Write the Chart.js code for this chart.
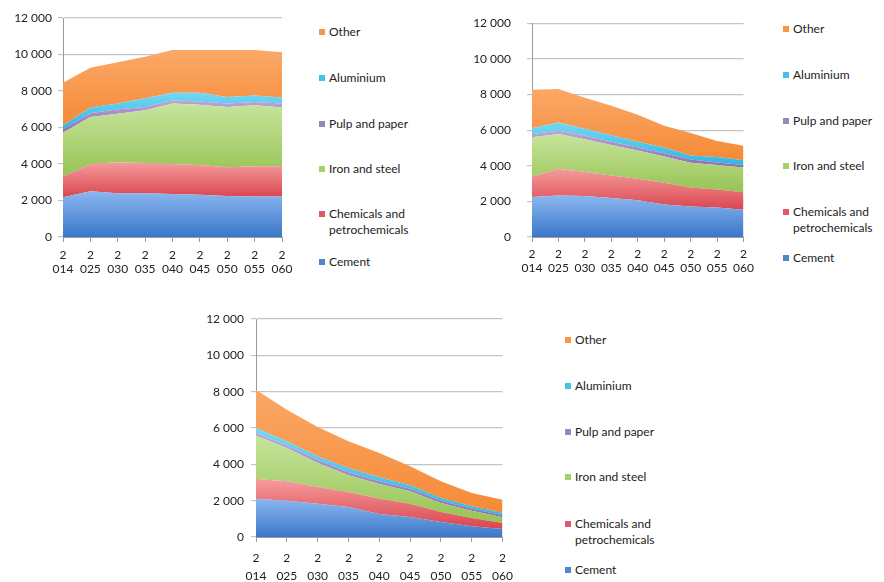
<!DOCTYPE html>
<html>
<head>
<meta charset="utf-8">
<script src="https://cdn.jsdelivr.net/npm/chart.js@4/dist/chart.umd.min.js"></script>
<style>
  body { margin: 0; background: #fff; width: 884px; height: 582px; position: relative; overflow: hidden; font-family: Lato, "Open Sans", sans-serif; }
  .panel { position: absolute; }
  .legend { position: absolute; font-size: 12px; color: #222; }
  .legend .item { position: absolute; left: 0; width: 100px; line-height: 16px; padding-left: 10px; }
  .legend .mark { position: absolute; left: 0; top: 5px; width: 6px; height: 6px; }
</style>
</head>
<body>
<div class="panel" style="left:0;top:0;width:300px;height:285px"><canvas id="c1"></canvas></div>
<div class="panel" style="left:470px;top:0;width:290px;height:285px"><canvas id="c2"></canvas></div>
<div class="panel" style="left:190px;top:300px;width:330px;height:282px"><canvas id="c3"></canvas></div>
<div class="legend" id="l1" style="left:319px;top:0"></div>
<div class="legend" id="l2" style="left:783px;top:0"></div>
<div class="legend" id="l3" style="left:565px;top:300px"></div>
<script>
// categories and series (stack order bottom -> top)
var years = ['2014', '2025', '2030', '2035', '2040', '2045', '2050', '2055', '2060'];
var seriesNames = ['Cement', 'Chemicals and petrochemicals', 'Iron and steel', 'Pulp and paper', 'Aluminium', 'Other'];
var yTicks = [0, 2000, 4000, 6000, 8000, 10000, 12000];

// panel 1 (top left)
var cement1    = [2180, 2510, 2400, 2400, 2360, 2310, 2240, 2220, 2220];
var chemicals1 = [1130, 1490, 1690, 1650, 1640, 1640, 1580, 1650, 1650];
var iron1      = [2420, 2580, 2670, 2900, 3310, 3290, 3310, 3350, 3220];
var pulp1      = [180, 200, 240, 180, 180, 180, 180, 180, 220];
var aluminium1 = [220, 310, 310, 470, 420, 490, 360, 360, 330];
var other1     = [2320, 2180, 2270, 2270, 2330, 2330, 2570, 2480, 2490];

// panel 2 (top right)
var cement2    = [2245, 2335, 2300, 2190, 2065, 1830, 1705, 1650, 1530];
var chemicals2 = [1135, 1490, 1345, 1260, 1205, 1220, 1080, 1010, 985];
var iron2      = [2220, 1960, 1835, 1720, 1580, 1475, 1385, 1380, 1385];
var pulp2      = [180, 175, 210, 180, 180, 180, 175, 145, 140];
var aluminium2 = [325, 470, 380, 360, 320, 325, 235, 305, 270];
var other2     = [2155, 1870, 1740, 1655, 1510, 1220, 1260, 900, 810];

// panel 3 (bottom)
var cement3    = [2110, 2000, 1835, 1650, 1265, 1100, 825, 585, 440];
var chemicals3 = [1085, 1065, 920, 830, 845, 735, 550, 460, 330];
var iron3      = [2385, 1835, 1320, 915, 810, 680, 495, 405, 315];
var pulp3      = [145, 130, 180, 165, 145, 145, 130, 110, 110];
var aluminium3 = [275, 235, 185, 240, 220, 185, 145, 130, 125];
var other3     = [2110, 1745, 1615, 1465, 1340, 1045, 920, 730, 735];

// light (top) / dark (bottom) colour of each band
var lightColors = ['#8cb7f0', '#f59c9c', '#c6e49c', '#bba6da', '#72d8f3', '#fba868'];
var darkColors  = ['#3a77c9', '#d9464f', '#97c353', '#8b6db6', '#33b6df', '#f58a36'];
var markColors  = ['#4f86d0', '#e4566a', '#a8cf68', '#9a85c0', '#45c3e6', '#f79646'];

var tickFont = { family: 'Lato', size: 12 };

function bandFill(series, i) {
    return function (ctx) {
        var chart = ctx.chart;
        var area = chart.chartArea;
        var y = chart.scales.y;
        if (!area || !y) return markColors[i];
        var top = area.bottom, bottom = area.top;
        for (var k = 0; k < years.length; k++) {
            var below = 0;
            for (var j = 0; j < i; j++) below += series[j][k];
            var above = below + series[i][k];
            top = Math.min(top, y.getPixelForValue(above));
            bottom = Math.max(bottom, i == 0 ? area.bottom : y.getPixelForValue(below));
        }
        if (bottom - top < 2) bottom = top + 2;
        var g = chart.ctx.createLinearGradient(0, top, 0, bottom);
        g.addColorStop(0, lightColors[i]);
        g.addColorStop(1, darkColors[i]);
        return g;
    };
}

function makeChart(id, series, o) {
    var datasets = series.map(function (values, i) {
        return {
            label: seriesNames[i],
            data: values,
            fill: i == 0 ? 'origin' : '-1',
            backgroundColor: bandFill(series, i),
            borderWidth: 0,
            pointRadius: 0,
            tension: 0
        };
    });
    return new Chart(document.getElementById(id), {
        type: 'line',
        data: { labels: years, datasets: datasets },
        options: {
            responsive: true,
            maintainAspectRatio: false,
            animation: false,
            layout: { padding: { left: 0, top: o.top, right: o.right, bottom: 0 } },
            plugins: { legend: { display: false }, tooltip: { enabled: false } },
            scales: {
                x: {
                    offset: false,
                    grid: { drawOnChartArea: false, color: '#9a9a9a', tickLength: 5 },
                    border: { color: '#9a9a9a' },
                    ticks: {
                        font: Object.assign({ lineHeight: o.lineHeight }, tickFont),
                        color: '#222',
                        padding: o.xPad,
                        maxRotation: 0,
                        autoSkip: false,
                        callback: function (v, idx) { var s = years[idx]; return [s.slice(0, 1), s.slice(1)]; }
                    },
                    afterFit: function (s) { s.height = o.xHeight; }
                },
                y: {
                    stacked: true,
                    min: 0,
                    max: 12000,
                    afterBuildTicks: function (s) { s.ticks = yTicks.map(function (v) { return { value: v }; }); },
                    grid: { color: '#c4c4c4', lineWidth: 1.2, tickLength: 5 },
                    border: { color: '#9a9a9a' },
                    ticks: {
                        font: tickFont,
                        color: '#222',
                        padding: o.yPad,
                        callback: function (v) { return v >= 1000 ? Math.floor(v / 1000) + ' ' + String(v % 1000).padStart(3, '0') : String(v); }
                    },
                    afterFit: function (s) { s.width = o.yWidth; }
                }
            }
        }
    });
}

function makeLegend(id, ys) {
    var box = document.getElementById(id);
    var order = [5, 4, 3, 2, 1, 0];
    order.forEach(function (i, n) {
        var item = document.createElement('div');
        item.className = 'item';
        item.style.top = ys[n] + 'px';
        var m = document.createElement('span');
        m.className = 'mark';
        m.style.background = markColors[i];
        item.appendChild(m);
        item.appendChild(document.createTextNode(seriesNames[i]));
        box.appendChild(item);
    });
}

makeChart('c1', [cement1, chemicals1, iron1, pulp1, aluminium1, other1],
    { top: 18, right: 18, yWidth: 63, xHeight: 48, yPad: 6, xPad: 6, lineHeight: 1.15 });
makeChart('c2', [cement2, chemicals2, iron2, pulp2, aluminium2, other2],
    { top: 14, right: 14, yWidth: 62, xHeight: 48, yPad: 16, xPad: 6, lineHeight: 1.1 });
makeChart('c3', [cement3, chemicals3, iron3, pulp3, aluminium3, other3],
    { top: 19, right: 11, yWidth: 66, xHeight: 45, yPad: 7, xPad: 7, lineHeight: 1.5 });

makeLegend('l1', [24, 70, 116, 161, 206, 254]);
makeLegend('l2', [21, 67, 113, 158, 204, 250]);
makeLegend('l3', [32, 78, 124, 169, 216, 262]);
</script>
</body>
</html>
